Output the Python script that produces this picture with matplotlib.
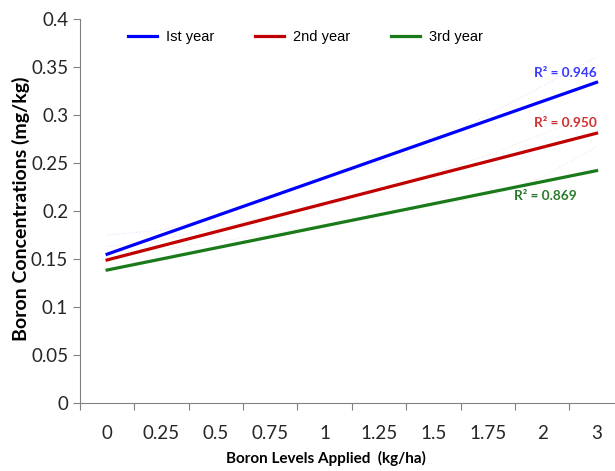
import matplotlib.pyplot as plt
import numpy as np

# category axis (Excel-style line chart)
levels = ["0", "0.25", "0.5", "0.75", "1", "1.25", "1.5", "1.75", "2", "3"]
series_names = ["Ist year", "2nd year", "3rd year"]
colors = ["#0000ff", "#c00000", "#1a7a1a"]

# linear trend line values at first and last category
trend_start = [0.155, 0.149, 0.1385]
trend_end = [0.334, 0.281, 0.242]
r2_labels = ["R² = 0.946", "R² = 0.950", "R² = 0.869"]

# raw observations (drawn very faintly in the original)
raw_1 = [0.175, 0.180, 0.195, 0.215, 0.235, 0.250, 0.270, 0.300, 0.330, 0.360]
raw_2 = [0.163, 0.170, 0.182, 0.195, 0.205, 0.222, 0.240, 0.258, 0.280, 0.302]
raw_3 = [0.157, 0.160, 0.168, 0.176, 0.186, 0.196, 0.206, 0.215, 0.235, 0.267]
raw = [raw_1, raw_2, raw_3]

plt.rcParams['font.family'] = ['Lato', 'DejaVu Sans']

fig = plt.figure(figsize=(6.15, 4.71), dpi=100)
ax = fig.add_axes([0.130, 0.1444, 0.878, 0.8153])

x = np.arange(len(levels))
for i in range(3):
    ax.plot(x, raw[i], color=colors[i], lw=0.8, ls=':', alpha=0.12)
    ax.plot([x[0], x[-1]], [trend_start[i], trend_end[i]], color=colors[i], lw=2.3)

# R² annotations
ax.text(9.0, trend_end[0] + 0.003, r2_labels[0], color="#3a3aff", fontsize=9.8,
        fontweight='bold', ha='right', va='bottom')
ax.text(9.0, trend_end[1] + 0.004, r2_labels[1], color="#d03030", fontsize=9.8,
        fontweight='bold', ha='right', va='bottom')
ax.text(7.48, 0.2155, r2_labels[2], color="#2a7a2a", fontsize=9.8,
        fontweight='bold', ha='left', va='center')

ax.set_xlim(-0.5, 9.43)
ax.set_ylim(0, 0.4)
ax.set_yticks(np.arange(0, 0.41, 0.05))
ax.set_yticklabels(["0", "0.05", "0.1", "0.15", "0.2", "0.25", "0.3", "0.35", "0.4"])
ax.set_xticks(np.arange(-0.5, 9.5, 1.0))
ax.set_xticklabels([])
ax.set_xticks(x, minor=True)
ax.set_xticklabels(levels, minor=True)
ax.tick_params(axis='x', which='major', length=5, direction='out', color='#808080')
ax.tick_params(axis='x', which='minor', length=0, pad=16, labelsize=13.5, labelcolor='#262626')
ax.tick_params(axis='y', length=5, color='#808080', labelsize=13.5, labelcolor='#262626')

for s in ['top', 'right']:
    ax.spines[s].set_visible(False)
for s in ['left', 'bottom']:
    ax.spines[s].set_color('#808080')

ax.set_ylabel("Boron Concentrations (mg/kg)", fontsize=14, fontweight='bold')
ax.yaxis.set_label_coords(-0.092, 0.505)
ax.set_xlabel("Boron Levels Applied  (kg/ha)", fontsize=11, fontweight='bold')
ax.xaxis.set_label_coords(0.456, -0.125)

leg = ax.legend([ax.lines[1], ax.lines[3], ax.lines[5]], series_names,
                loc='upper left', bbox_to_anchor=(0.065, 1.005), ncol=3, frameon=False,
                prop={'family': 'Liberation Sans', 'size': 10.5},
                handlelength=2.0, columnspacing=2.8, handletextpad=0.6)

fig.savefig("out.png", dpi=100)
